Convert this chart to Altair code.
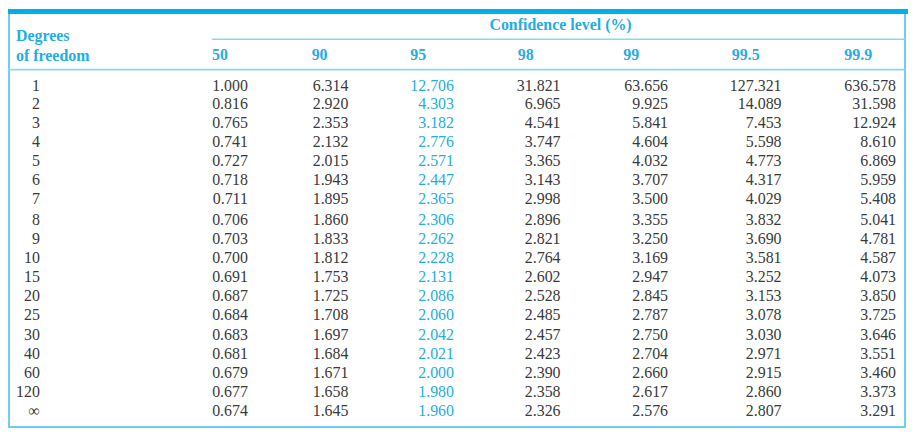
import altair as alt
import pandas as pd

# ---------------- data ----------------
df_labels = ["1", "2", "3", "4", "5", "6", "7", "8", "9", "10",
             "15", "20", "25", "30", "40", "60", "120", "∞"]
conf_levels = ["50", "90", "95", "98", "99", "99.5", "99.9"]

t50 = [1.000, 0.816, 0.765, 0.741, 0.727, 0.718, 0.711, 0.706, 0.703, 0.700,
       0.691, 0.687, 0.684, 0.683, 0.681, 0.679, 0.677, 0.674]
t90 = [6.314, 2.920, 2.353, 2.132, 2.015, 1.943, 1.895, 1.860, 1.833, 1.812,
       1.753, 1.725, 1.708, 1.697, 1.684, 1.671, 1.658, 1.645]
t95 = [12.706, 4.303, 3.182, 2.776, 2.571, 2.447, 2.365, 2.306, 2.262, 2.228,
       2.131, 2.086, 2.060, 2.042, 2.021, 2.000, 1.980, 1.960]
t98 = [31.821, 6.965, 4.541, 3.747, 3.365, 3.143, 2.998, 2.896, 2.821, 2.764,
       2.602, 2.528, 2.485, 2.457, 2.423, 2.390, 2.358, 2.326]
t99 = [63.656, 9.925, 5.841, 4.604, 4.032, 3.707, 3.500, 3.355, 3.250, 3.169,
       2.947, 2.845, 2.787, 2.750, 2.704, 2.660, 2.617, 2.576]
t995 = [127.321, 14.089, 7.453, 5.598, 4.773, 4.317, 4.029, 3.832, 3.690, 3.581,
        3.252, 3.153, 3.078, 3.030, 2.971, 2.915, 2.860, 2.807]
t999 = [636.578, 31.598, 12.924, 8.610, 6.869, 5.959, 5.408, 5.041, 4.781, 4.587,
        4.073, 3.850, 3.725, 3.646, 3.551, 3.460, 3.373, 3.291]
series = [t50, t90, t95, t98, t99, t995, t999]
highlight_level = "95"

title_text = "Confidence level (%)"
df_title = ["Degrees", "of freedom"]

# ---------------- layout (page pixel coordinates) ----------------
W, H = 904, 421
ORIGIN = 8
col_right = [249, 350, 456, 563, 671, 785, 900]     # right edge of values
col_head_left = [213, 313, 412, 520, 626, 735, 848]  # left edge of headers
df_right = 40
row_top, row_pitch, group_gap = 85, 19, 2
group_starts = [0, 7, 13]

FONT = "Liberation Serif"
CYAN = "#00aeef"
CYAN_TEXT = "#22ade6"
LINE = "#8bd6f3"
GREY = "#3a3a3a"

xs = alt.Scale(domain=[ORIGIN, ORIGIN + W], range=[0, W], nice=False, zero=False)
ys = alt.Scale(domain=[ORIGIN, ORIGIN + H], range=[0, H], nice=False, zero=False)


def row_y(i):
    g = sum(1 for s in group_starts if i >= s) - 1
    return row_top + row_pitch * i + group_gap * g


rows = []
for ci, lvl in enumerate(conf_levels):
    for ri, v in enumerate(series[ci]):
        rows.append({"level": lvl, "df": df_labels[ri], "value": v,
                     "x": col_right[ci], "y": row_y(ri),
                     "hl": "yes" if lvl == highlight_level else "no"})
cells = pd.DataFrame(rows)

dfcol = pd.DataFrame({"label": df_labels,
                      "x": [df_right] * len(df_labels),
                      "y": [row_y(i) for i in range(len(df_labels))]})

heads = pd.DataFrame({"label": conf_levels, "x": col_head_left,
                      "y": [54] * len(conf_levels)})

left_head = pd.DataFrame({"label": df_title, "x": [16, 16], "y": [35, 55]})
top_head = pd.DataFrame({"label": [title_text], "x": [563], "y": [24]})

X = lambda f="x": alt.X(f"{f}:Q", scale=xs, axis=None)
Y = lambda f="y": alt.Y(f"{f}:Q", scale=ys, axis=None)

values = alt.Chart(cells).mark_text(
    align="right", baseline="middle", font=FONT, fontSize=16
).encode(
    x=X(), y=Y(),
    text=alt.Text("value:Q", format=".3f"),
    color=alt.Color("hl:N", scale=alt.Scale(domain=["no", "yes"],
                                            range=[GREY, CYAN_TEXT]), legend=None),
)

df_layer = alt.Chart(dfcol).mark_text(
    align="right", baseline="middle", font=FONT, fontSize=16, color=GREY
).encode(x=X(), y=Y(), text="label:N")

head_layer = alt.Chart(heads).mark_text(
    align="left", baseline="middle", font=FONT, fontSize=16, fontWeight="bold",
    color=CYAN_TEXT
).encode(x=X(), y=Y(), text="label:N")

left_layer = alt.Chart(left_head).mark_text(
    align="left", baseline="middle", font=FONT, fontSize=16, fontWeight="bold",
    color=CYAN_TEXT
).encode(x=X(), y=Y(), text="label:N")

top_layer = alt.Chart(top_head).mark_text(
    align="center", baseline="middle", font=FONT, fontSize=16, fontWeight="bold",
    color=CYAN_TEXT
).encode(x=X(), y=Y(), text="label:N")

rules_df = pd.DataFrame({"x": [213, 8], "x2": [909, 909], "y": [38.5, 69]})
rules = alt.Chart(rules_df).mark_rule(color=LINE, strokeWidth=1.6).encode(
    x=X(), x2="x2:Q", y=Y()
)

frame_df = pd.DataFrame({"x": [9], "x2": [909], "y": [10], "y2": [428]})
frame = alt.Chart(frame_df).mark_rect(
    fill=None, stroke="#6fcdf2", strokeWidth=2
).encode(x=X(), x2="x2:Q", y=Y(), y2="y2:Q")

bar_df = pd.DataFrame({"x": [8], "x2": [912], "y": [8], "y2": [13]})
topbar = alt.Chart(bar_df).mark_rect(color=CYAN).encode(
    x=X(), x2="x2:Q", y=Y(), y2="y2:Q"
)

chart = alt.layer(
    frame, topbar, rules, top_layer, left_layer, head_layer, df_layer, values
).properties(
    width=W, height=H, padding=0, autosize="none", background="white"
).configure_view(strokeWidth=0)

chart.save("out.html", embed_options={"renderer": "svg", "actions": False})
